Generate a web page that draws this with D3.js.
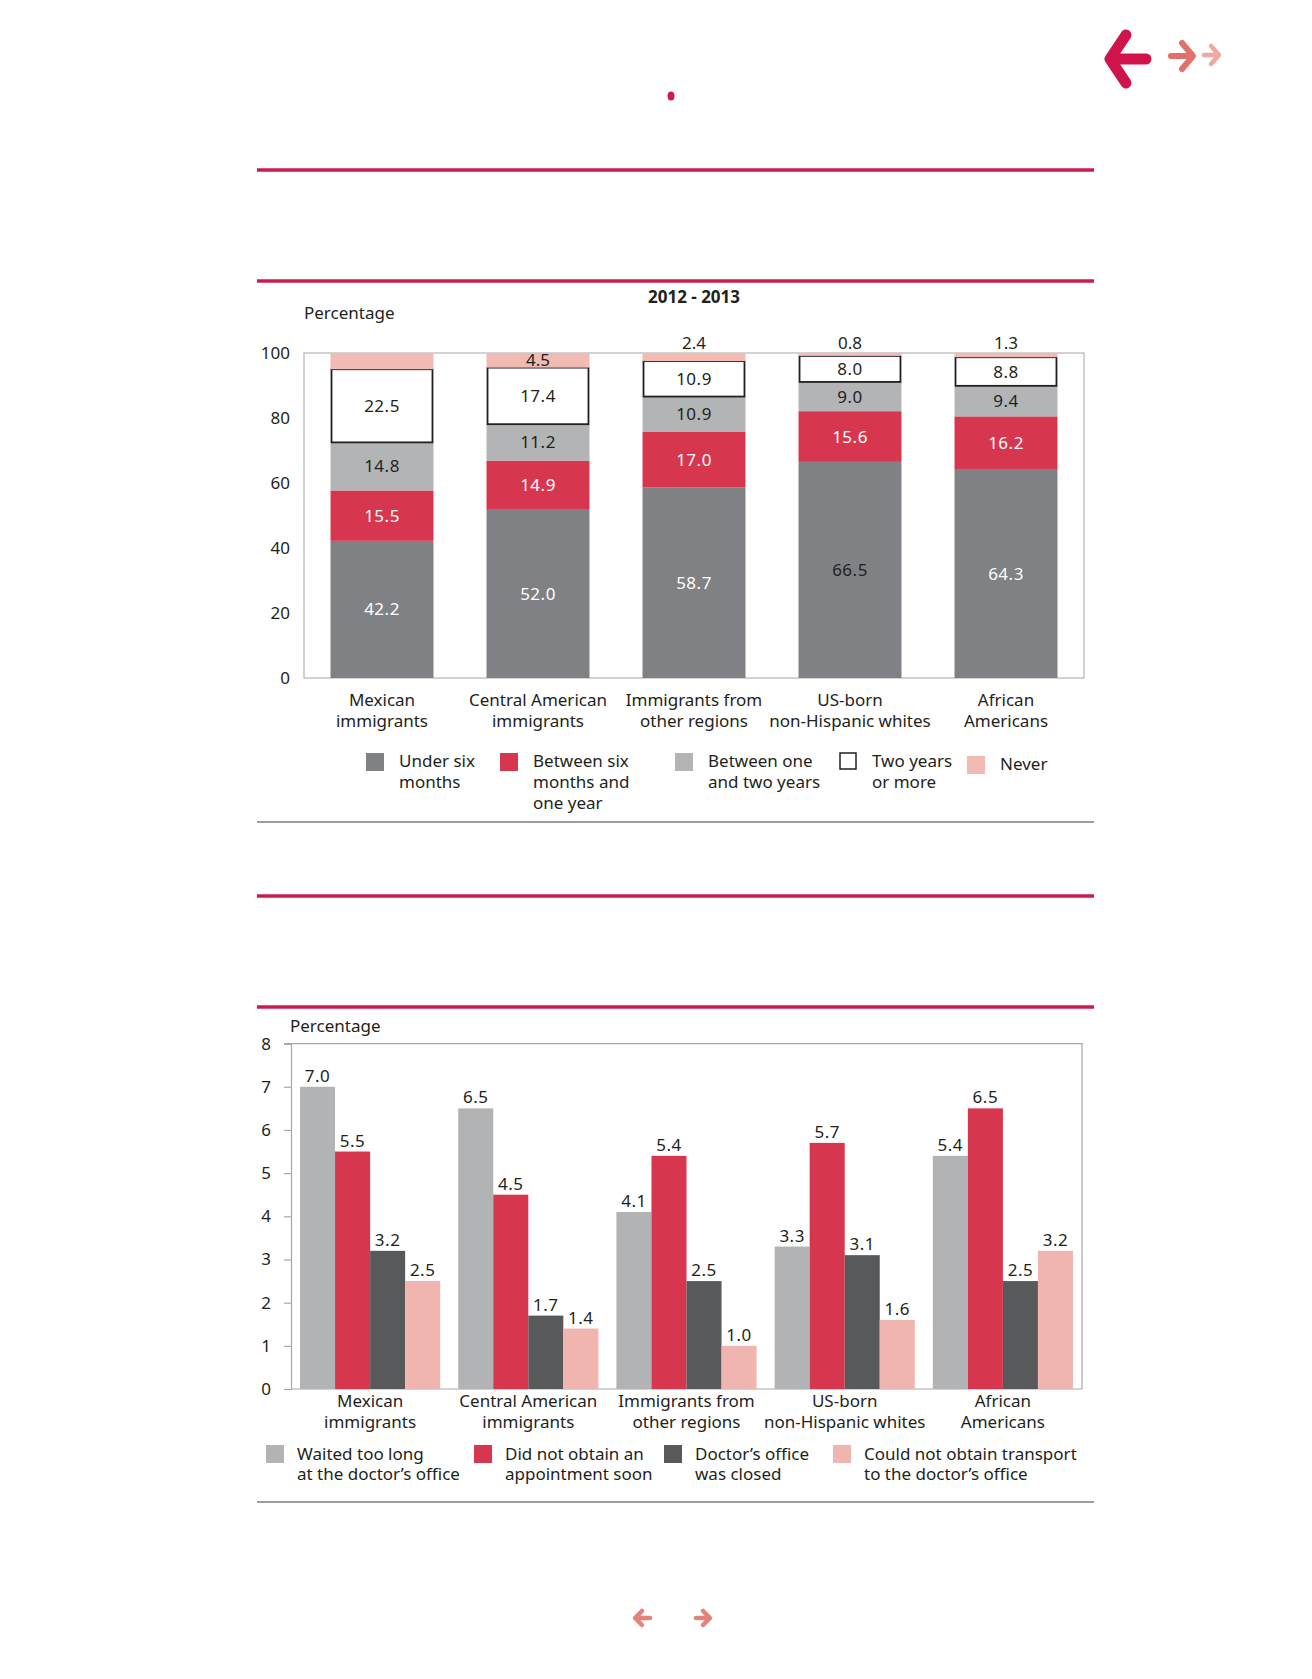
<!DOCTYPE html>
<html>
<head>
<meta charset="utf-8">
<script src="https://cdn.jsdelivr.net/npm/d3@7"></script>
<style>
  body { margin: 0; background: #fff; }
  svg { display: block; }
  text { font-family: "Noto Sans", "Open Sans", sans-serif; }
</style>
</head>
<body>
<div id="page"></div>
<script>
// categories (shared by both charts)
const groups = ["Mexican immigrants", "Central American immigrants", "Immigrants from other regions", "US-born non-Hispanic whites", "African Americans"];
const groupLines = [["Mexican", "immigrants"], ["Central American", "immigrants"], ["Immigrants from", "other regions"], ["US-born", "non-Hispanic whites"], ["African", "Americans"]];

// chart 1: time since last visit, 2012 - 2013
const underSix = [42.2, 52.0, 58.7, 66.5, 64.3];
const sixToYear = [15.5, 14.9, 17.0, 15.6, 16.2];
const oneToTwo = [14.8, 11.2, 10.9, 9.0, 9.4];
const twoPlus = [22.5, 17.4, 10.9, 8.0, 8.8];
const never = [5.0, 4.5, 2.4, 0.8, 1.3];
const neverShown = [false, true, true, true, true];
const ticks1 = [0, 20, 40, 60, 80, 100];

// chart 2: reasons
const waited = [7.0, 6.5, 4.1, 3.3, 5.4];
const noAppt = [5.5, 4.5, 5.4, 5.7, 6.5];
const closed = [3.2, 1.7, 2.5, 3.1, 2.5];
const transport = [2.5, 1.4, 1.0, 1.6, 3.2];
const ticks2 = [0, 1, 2, 3, 4, 5, 6, 7, 8];

const red = "#d7364f", crimson = "#cc1c4d", ink = "#231f20";

const svg = d3.select("#page").append("svg")
  .attr("width", 1312).attr("height", 1679)
  .attr("fill", ink);

// ---- page decoration ----
const rule = (y, color, w) => svg.append("line")
  .attr("x1", 257).attr("x2", 1094).attr("y1", y).attr("y2", y)
  .attr("stroke", color).attr("stroke-width", w);
rule(170, crimson, 3.5);
rule(281, crimson, 3.5);
rule(822, "#9d9d9d", 2);
rule(896, crimson, 3.5);
rule(1007, crimson, 3.5);
rule(1502, "#9d9d9d", 2);

svg.append("ellipse").attr("cx", 671).attr("cy", 96).attr("rx", 3.5).attr("ry", 4.5).attr("fill", crimson);

// top navigation arrows
svg.append("path")
  .attr("d", "M1126,35 L1110,59 L1126,83 M1112,59 L1146,59")
  .attr("fill", "none").attr("stroke", "#d0134a").attr("stroke-width", 11)
  .attr("stroke-linecap", "round").attr("stroke-linejoin", "round");
svg.append("path")
  .attr("d", "M1182,43 L1193,56 L1182,69 M1171,56 L1191,56")
  .attr("fill", "none").attr("stroke", "#e2706e").attr("stroke-width", 6)
  .attr("stroke-linecap", "round").attr("stroke-linejoin", "round");
svg.append("path")
  .attr("d", "M1211,46 L1219,55 L1211,64 M1204,55 L1217,55")
  .attr("fill", "none").attr("stroke", "#f0a9a2").attr("stroke-width", 4.5)
  .attr("stroke-linecap", "round").attr("stroke-linejoin", "round");

// bottom arrows
svg.append("path")
  .attr("d", "M642,1611 L635,1618 L642,1625 M636,1618 L650,1618")
  .attr("fill", "none").attr("stroke", "#e4837b").attr("stroke-width", 4.5)
  .attr("stroke-linecap", "round").attr("stroke-linejoin", "round");
svg.append("path")
  .attr("d", "M703,1611 L710,1618 L703,1625 M696,1618 L709,1618")
  .attr("fill", "none").attr("stroke", "#e4837b").attr("stroke-width", 4.5)
  .attr("stroke-linecap", "round").attr("stroke-linejoin", "round");

// ---- chart 1: stacked bars ----
const c1 = {left: 304, right: 1084, top: 353, bottom: 678};
const x1 = d3.scaleBand().domain(groups).range([c1.left, c1.right])
  .paddingInner(0.34).paddingOuter(0.17);
const y1 = d3.scaleLinear().domain([0, 100]).range([c1.bottom, c1.top]);

const g1 = svg.append("g");
g1.append("text").attr("x", 694).attr("y", 303).attr("text-anchor", "middle")
  .attr("font-weight", "bold").attr("font-size", 17).text("2012 - 2013");
g1.append("text").attr("x", 304).attr("y", 319).attr("font-size", 17).text("Percentage");

g1.append("rect").attr("x", c1.left).attr("y", c1.top)
  .attr("width", c1.right - c1.left).attr("height", c1.bottom - c1.top)
  .attr("fill", "none").attr("stroke", "#b5b5b5").attr("stroke-width", 1.2);

const yAxis1 = g1.append("g").attr("transform", `translate(${c1.left},0)`)
  .call(d3.axisLeft(y1).tickValues(ticks1).tickSize(0).tickPadding(14));
yAxis1.select(".domain").remove();
yAxis1.selectAll("text").attr("font-size", 17).attr("font-family", "Noto Sans").attr("fill", ink);

const series1 = [
  {key: "Under six months", vals: underSix, fill: "#808184", stroke: "none", text: "#fff"},
  {key: "Between six months and one year", vals: sixToYear, fill: red, stroke: "none", text: "#fff"},
  {key: "Between one and two years", vals: oneToTwo, fill: "#b3b4b6", stroke: "none", text: ink},
  {key: "Two years or more", vals: twoPlus, fill: "#fff", stroke: ink, text: ink},
  {key: "Never", vals: never, fill: "#f1bab2", stroke: "none", text: ink}
];

const stackRows = groups.map((g, i) => {
  const row = {group: g};
  series1.forEach(s => { row[s.key] = s.vals[i]; });
  return row;
});
const stacked = d3.stack().keys(series1.map(s => s.key))(stackRows);

stacked.forEach((layer, li) => {
  const s = series1[li];
  layer.forEach((d, i) => {
    const top = y1(Math.min(d[1], 100));
    const bottom = y1(d[0]);
    g1.append("rect")
      .attr("x", x1(groups[i]) + (s.stroke !== "none" ? 1 : 0))
      .attr("y", top)
      .attr("width", x1.bandwidth() - (s.stroke !== "none" ? 2 : 0))
      .attr("height", bottom - top)
      .attr("fill", s.fill).attr("stroke", s.stroke).attr("stroke-width", 1.8);
    if (li === 4) {
      if (!neverShown[i]) return;
      const inside = s.vals[i] >= 4;
      g1.append("text")
        .attr("x", x1(groups[i]) + x1.bandwidth() / 2)
        .attr("y", inside ? (top + bottom) / 2 + 6 : c1.top - 4)
        .attr("text-anchor", "middle").attr("font-size", 17)
        .attr("fill", s.text).text(s.vals[i].toFixed(1));
      return;
    }
    // the 66.5 label is printed dark in the source
    const dark = li === 0 && i === 3;
    g1.append("text")
      .attr("x", x1(groups[i]) + x1.bandwidth() / 2)
      .attr("y", (top + bottom) / 2 + 6)
      .attr("text-anchor", "middle").attr("font-size", 17)
      .attr("letter-spacing", 0.5)
      .attr("fill", dark ? ink : s.text).text(s.vals[i].toFixed(1));
  });
});

groupLines.forEach((lines, i) => {
  const t = g1.append("text").attr("text-anchor", "middle").attr("font-size", 17)
    .attr("x", x1(groups[i]) + x1.bandwidth() / 2);
  lines.forEach((l, k) => t.append("tspan")
    .attr("x", x1(groups[i]) + x1.bandwidth() / 2).attr("y", 706 + k * 21).text(l));
});

// legend 1
const legend1 = [
  {x: 366, lines: ["Under six", "months"]},
  {x: 500, lines: ["Between six", "months and", "one year"]},
  {x: 675, lines: ["Between one", "and two years"]},
  {x: 839, lines: ["Two years", "or more"]},
  {x: 967, lines: ["Never"], dy: 3}
];
legend1.forEach((l, i) => {
  const s = series1[i];
  g1.append("rect").attr("x", l.x + (s.stroke !== "none" ? 1 : 0)).attr("y", 753 + (l.dy || 0))
    .attr("width", s.stroke !== "none" ? 16 : 18).attr("height", s.stroke !== "none" ? 16 : 18)
    .attr("fill", s.fill).attr("stroke", s.stroke).attr("stroke-width", 1.5);
  l.lines.forEach((line, k) => g1.append("text").attr("x", l.x + 33)
    .attr("y", 767 + (l.dy || 0) + k * 21).attr("font-size", 17).text(line));
});

// ---- chart 2: grouped bars ----
const c2 = {left: 291, right: 1082, top: 1043.6, bottom: 1389};
const x2 = d3.scaleBand().domain(groups).range([c2.left, c2.right])
  .paddingInner(0.114).paddingOuter(0.057);
const series2 = [
  {key: "Waited too long at the doctor's office", vals: waited, fill: "#b2b3b5"},
  {key: "Did not obtain an appointment soon", vals: noAppt, fill: red},
  {key: "Doctor's office was closed", vals: closed, fill: "#58595b"},
  {key: "Could not obtain transport to the doctor's office", vals: transport, fill: "#efb5ae"}
];
const xs = d3.scaleBand().domain(series2.map(s => s.key)).range([0, x2.bandwidth()]);
const y2 = d3.scaleLinear().domain([0, 8]).range([c2.bottom, c2.top]);

const g2 = svg.append("g");
g2.append("text").attr("x", 290).attr("y", 1032).attr("font-size", 17).text("Percentage");

g2.append("path")
  .attr("d", `M${c2.left - 7},${c2.top} H${c2.right} V${c2.bottom} H${c2.left}`)
  .attr("fill", "none").attr("stroke", "#a7a7a7").attr("stroke-width", 1.2);

const yAxis2 = g2.append("g").attr("transform", `translate(${c2.left},0)`)
  .call(d3.axisLeft(y2).tickValues(ticks2).tickSize(7).tickPadding(13));
yAxis2.select(".domain").attr("stroke", "#a7a7a7").attr("stroke-width", 1.2);
yAxis2.selectAll("line").attr("stroke", "#a7a7a7").attr("stroke-width", 1.2);
yAxis2.selectAll("text").attr("font-size", 17).attr("font-family", "Noto Sans").attr("fill", ink);

series2.forEach(s => {
  groups.forEach((g, i) => {
    const bx = x2(g) + xs(s.key);
    g2.append("rect").attr("x", bx).attr("y", y2(s.vals[i]))
      .attr("width", xs.bandwidth()).attr("height", c2.bottom - y2(s.vals[i]))
      .attr("fill", s.fill);
    g2.append("text").attr("x", bx + xs.bandwidth() / 2).attr("y", y2(s.vals[i]) - 5)
      .attr("text-anchor", "middle").attr("font-size", 17).attr("letter-spacing", 0.5)
      .text(s.vals[i].toFixed(1));
  });
});

groupLines.forEach((lines, i) => {
  const cx = x2(groups[i]) + x2.bandwidth() / 2;
  const t = g2.append("text").attr("text-anchor", "middle").attr("font-size", 17);
  lines.forEach((l, k) => t.append("tspan").attr("x", cx).attr("y", 1407 + k * 21).text(l));
});

const legend2 = [
  {x: 266, lines: ["Waited too long", "at the doctor\u2019s office"]},
  {x: 474, lines: ["Did not obtain an", "appointment soon"]},
  {x: 664, lines: ["Doctor\u2019s office", "was closed"]},
  {x: 833, lines: ["Could not obtain transport", "to the doctor\u2019s office"]}
];
legend2.forEach((l, i) => {
  g2.append("rect").attr("x", l.x).attr("y", 1445).attr("width", 18).attr("height", 18)
    .attr("fill", series2[i].fill);
  l.lines.forEach((line, k) => g2.append("text").attr("x", l.x + 31)
    .attr("y", 1460 + k * 20).attr("font-size", 17).text(line));
});
</script>
</body>
</html>
